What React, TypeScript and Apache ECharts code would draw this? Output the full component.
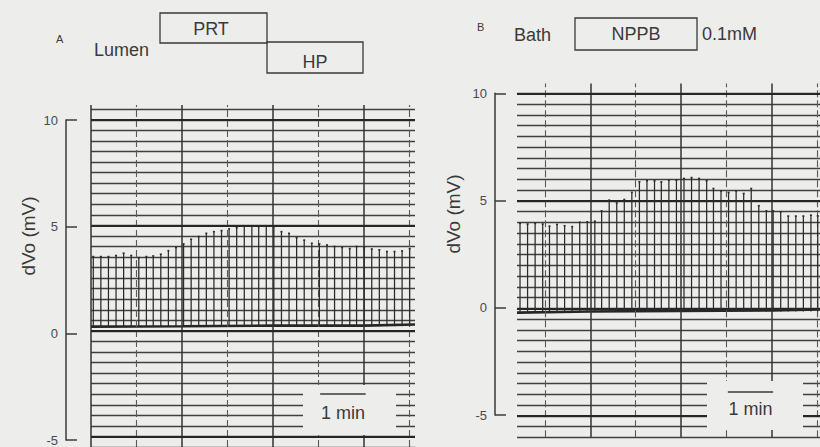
import React, { useEffect, useRef } from "react";
import * as echarts from "echarts";

// ---------- Panel A (Lumen PRT / HP) ----------
const A_SPIKE_TIMES = [3, 13, 23, 33, 43, 53, 63, 73, 82, 92, 102, 112, 122, 132, 142, 152, 162, 172, 182, 192, 202, 212, 221, 231, 241, 251, 261, 271, 281, 291, 301, 311, 321, 331, 341, 350, 360, 370, 380, 390, 400, 410, 420];
const A_SPIKE_PEAKS = [3.52, 3.52, 3.52, 3.57, 3.68, 3.57, 3.47, 3.52, 3.55, 3.63, 3.8, 3.95, 4.12, 4.34, 4.47, 4.62, 4.7, 4.75, 4.83, 4.89, 4.98, 4.98, 4.94, 4.98, 4.94, 4.7, 4.62, 4.42, 4.3, 4.15, 4.12, 4.07, 4.0, 3.95, 3.9, 4.0, 3.95, 3.88, 3.84, 3.76, 3.76, 3.79, 3.9];
const A_SPIKE_BASE = 0.22;
const A_BASE_TIMES = [0, 120, 240, 360, 427];
const A_BASE_VALUES = [0.2, 0.22, 0.25, 0.25, 0.3];
const A_SOLID_MIN_LINES = [0, 120, 240, 360];
const A_DASHED_MIN_LINES = [60, 180, 300, 420];
const A_SCALE_BAR = [302, 362];

// ---------- Panel B (Bath NPPB 0.1mM) ----------
const B_SPIKE_TIMES = [-33, -23, -13, -3, 6, 16, 26, 36, 46, 56, 66, 75, 85, 95, 105, 115, 125, 135, 145, 154, 164, 174, 184, 194, 204, 214, 223, 233, 243, 253, 263, 273, 283, 293, 302, 312, 322, 332, 342, 352, 361];
const B_SPIKE_PEAKS = [3.95, 3.92, 3.95, 3.92, 3.82, 3.9, 3.84, 3.8, 4.0, 4.02, 4.05, 4.53, 5.03, 4.9, 5.06, 5.39, 5.88, 5.93, 5.93, 5.88, 5.96, 5.96, 6.04, 6.08, 6.04, 5.93, 5.57, 5.46, 5.39, 5.46, 5.34, 5.57, 4.77, 4.53, 4.53, 4.49, 4.29, 4.29, 4.29, 4.33, 4.3];
const B_SPIKE_BASE = -0.15;
const B_BASE_TIMES = [-37, 60, 180, 300, 364];
const B_BASE_VALUES = [-0.2, -0.15, -0.12, -0.1, -0.05];
const B_SOLID_MIN_LINES = [60, 180, 300];
const B_DASHED_MIN_LINES = [0, 120, 240, 360];
const B_SCALE_BAR = [242, 302];

// shared
const HEAVY_MV_LINES = [-5, 0, 5, 10];
const MV_TICKS_MIN = -5;
const MV_TICKS_MAX = 10;
const MV_TICK_STEP = 5;

const BG = "#ededeb";
const INK = "#3a3a3a";
const FONT = "'Liberation Sans', Arial, sans-serif";

function paperMarkLines(solid: number[], dashed: number[]) {
  return {
    silent: true,
    symbol: "none",
    label: { show: false },
    emphasis: { disabled: true },
    animation: false,
    data: [
      ...dashed.map((t) => ({ xAxis: t, lineStyle: { type: [7, 3], color: "#5a5a5a", width: 1.1 } })),
      ...solid.map((t) => ({ xAxis: t, lineStyle: { type: "solid", color: "#333", width: 1.5 } })),
      ...HEAVY_MV_LINES.map((v) => ({ yAxis: v, lineStyle: { type: "solid", color: "#262626", width: 2.2 } })),
    ],
  };
}

function spikeSeries(idx: number, times: number[], peaks: number[], base: number) {
  return {
    type: "custom",
    xAxisIndex: idx,
    yAxisIndex: idx,
    z: 5,
    silent: true,
    data: times.map((t, i) => [t, peaks[i], base]),
    renderItem: (_p: any, api: any) => {
      const p1 = api.coord([api.value(0), api.value(2)]);
      const p2 = api.coord([api.value(0), api.value(1)]);
      return {
        type: "group",
        children: [
          { type: "line", shape: { x1: p1[0], y1: p1[1], x2: p2[0], y2: p2[1] }, style: { stroke: "#2b2b2b", lineWidth: 1.25 } },
          { type: "line", shape: { x1: p2[0] - 1, y1: p2[1], x2: p2[0] + 1, y2: p2[1] }, style: { stroke: "#2b2b2b", lineWidth: 1.6 } },
        ],
      };
    },
  };
}

function baseSeries(idx: number, times: number[], values: number[], solid: number[], dashed: number[]) {
  return {
    type: "line",
    xAxisIndex: idx,
    yAxisIndex: idx,
    z: 4,
    silent: true,
    showSymbol: false,
    data: times.map((t, i) => [t, values[i]]),
    lineStyle: { color: "#262626", width: 2.6 },
    markLine: paperMarkLines(solid, dashed),
  };
}

const paperY = (gridIndex: number, min: number, max: number) => ({
  gridIndex,
  type: "value",
  min,
  max,
  interval: 0.5,
  axisLine: { show: false },
  axisTick: { show: false },
  axisLabel: { show: false },
  splitLine: { show: true, showMaxLine: false, lineStyle: { color: "#404040", width: 1.35 } },
});

const bracketY = (gridIndex: number) => ({
  gridIndex,
  type: "value",
  min: MV_TICKS_MIN,
  max: MV_TICKS_MAX,
  interval: MV_TICK_STEP,
  axisLine: { show: true, lineStyle: { color: INK, width: 1.5 } },
  axisTick: { show: true, inside: true, length: 11, lineStyle: { color: INK, width: 1.5 } },
  axisLabel: { show: true, fontSize: 13, color: "#4a4a4a", margin: 8, fontFamily: FONT },
  splitLine: { show: false },
});

export default function App() {
  const ref = useRef<HTMLDivElement>(null);

  useEffect(() => {
    if (!ref.current) return;
    const chart = echarts.init(ref.current, null, { renderer: "svg" });
    chart.setOption({
      animation: false,
      backgroundColor: BG,
      grid: [
        { left: 91, top: 105, width: 324, height: 345.6 },
        { left: 517, top: 83.6, width: 303, height: 353.7 },
        { left: 66, top: 120, width: 1, height: 320 },
        { left: 495, top: 93.3, width: 1, height: 321.7 },
      ],
      xAxis: [
        { gridIndex: 0, type: "value", min: 0, max: 427, show: false },
        { gridIndex: 1, type: "value", min: -37, max: 364, show: false },
        { gridIndex: 2, type: "value", min: 0, max: 1, show: false },
        { gridIndex: 3, type: "value", min: 0, max: 1, show: false },
      ],
      yAxis: [paperY(0, -5.5, 10.7), paperY(1, -6, 10.45), bracketY(2), bracketY(3)],
      series: [
        baseSeries(0, A_BASE_TIMES, A_BASE_VALUES, A_SOLID_MIN_LINES, A_DASHED_MIN_LINES),
        spikeSeries(0, A_SPIKE_TIMES, A_SPIKE_PEAKS, A_SPIKE_BASE),
        baseSeries(1, B_BASE_TIMES, B_BASE_VALUES, B_SOLID_MIN_LINES, B_DASHED_MIN_LINES),
        spikeSeries(1, B_SPIKE_TIMES, B_SPIKE_PEAKS, B_SPIKE_BASE),
      ],
    });

    const a0 = chart.convertToPixel({ gridIndex: 0 }, [A_SCALE_BAR[0], -3]) as number[];
    const a1 = chart.convertToPixel({ gridIndex: 0 }, [A_SCALE_BAR[1], -3]) as number[];
    const b0 = chart.convertToPixel({ gridIndex: 1 }, [B_SCALE_BAR[0], -3.9]) as number[];
    const b1 = chart.convertToPixel({ gridIndex: 1 }, [B_SCALE_BAR[1], -3.9]) as number[];

    const txt = (text: string, x: number, y: number, size: number, align = "left", extra: any = {}) => ({
      type: "text",
      x,
      y,
      z: 101,
      style: { text, fill: INK, font: `${size}px ${FONT}`, align, verticalAlign: "middle" },
      ...extra,
    });
    const box = (x: number, y: number, w: number, h: number) => ({
      type: "rect",
      z: 101,
      shape: { x, y, width: w, height: h },
      style: { fill: "none", stroke: INK, lineWidth: 1.3 },
    });

    chart.setOption({
      graphic: [
        // panel A header
        txt("A", 56, 39, 11),
        txt("Lumen", 94, 50, 18),
        box(160, 13, 107, 30),
        box(267, 42, 96, 31),
        txt("PRT", 211, 29, 18, "center"),
        txt("HP", 315, 62, 18, "center"),
        // panel B header
        txt("B", 477, 27, 11),
        txt("Bath", 514, 35, 18),
        box(575, 18, 122, 32),
        txt("NPPB", 636, 34, 18, "center"),
        txt("0.1mM", 702, 34, 18),
        // axis titles
        txt("dVo (mV)", 28, 236, 19, "center", { rotation: Math.PI / 2 }),
        txt("dVo (mV)", 453, 214, 19, "center", { rotation: Math.PI / 2 }),
        // 1 min scale boxes
        { type: "rect", z: 100, shape: { x: 303, y: 385, width: 93, height: 50 }, style: { fill: BG } },
        { type: "line", z: 101, shape: { x1: a0[0], y1: 394, x2: a1[0], y2: 394 }, style: { stroke: INK, lineWidth: 1.5 } },
        txt("1 min", (a0[0] + a1[0]) / 2, 413, 18, "center"),
        { type: "rect", z: 100, shape: { x: 707, y: 381, width: 96, height: 49 }, style: { fill: BG } },
        { type: "line", z: 101, shape: { x1: b0[0], y1: 392, x2: b1[0], y2: 392 }, style: { stroke: INK, lineWidth: 1.5 } },
        txt("1 min", (b0[0] + b1[0]) / 2, 409, 18, "center"),
      ],
    });

    return () => chart.dispose();
  }, []);

  return (
    <div
      ref={ref}
      style={{ position: "fixed", left: 0, top: 0, width: 820, height: 447, background: BG }}
    />
  );
}
